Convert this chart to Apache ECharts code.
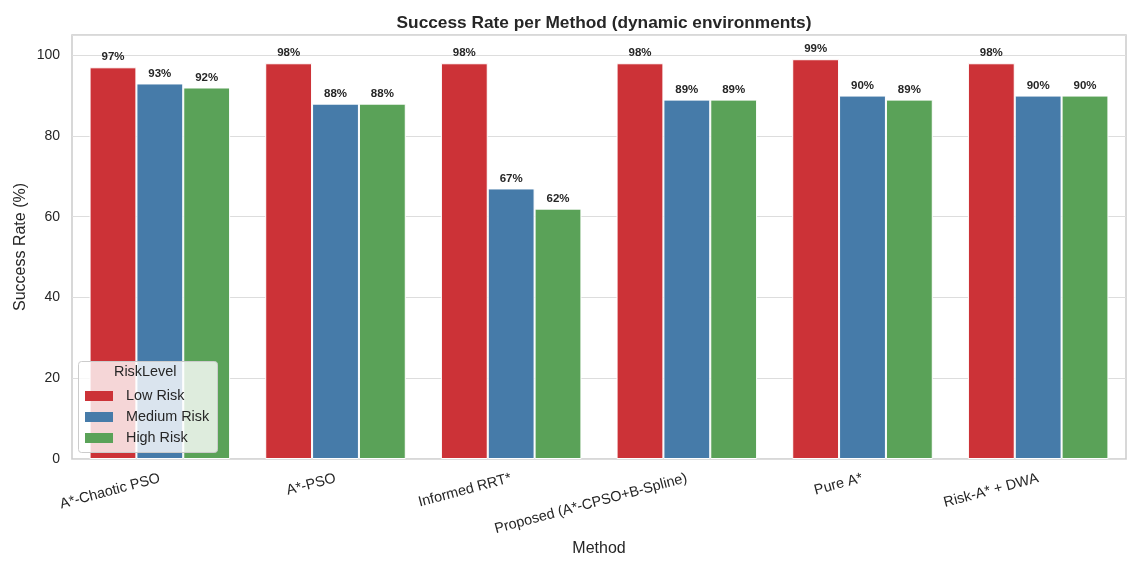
<!DOCTYPE html>
<html>
<head>
<meta charset="utf-8">
<title>Success Rate per Method</title>
<script src="https://cdn.jsdelivr.net/npm/echarts@6/dist/echarts.min.js"></script>
<style>
  html, body { margin: 0; padding: 0; background: #fff; }
  #chart { width: 1140px; height: 566px; }
</style>
</head>
<body>
<div id="chart"></div>
<script>
// Chart data
const methods = ['A*-Chaotic PSO', 'A*-PSO', 'Informed RRT*', 'Proposed (A*-CPSO+B-Spline)', 'Pure A*', 'Risk-A* + DWA'];
const riskLevels = ['Low Risk', 'Medium Risk', 'High Risk'];
const lowRisk = [97, 98, 98, 98, 99, 98];
const mediumRisk = [93, 88, 67, 89, 90, 90];
const highRisk = [92, 88, 62, 89, 89, 90];
const yTicks = [0, 20, 40, 60, 80, 100];

const colors = ['#cc3237', '#467ba9', '#5aa258'];
const font = 'Liberation Sans, Arial, sans-serif';

const chart = echarts.init(document.getElementById('chart'));

function makeSeries(name, values, color) {
    return {
        name: name,
        type: 'bar',
        data: values,
        barGap: '0%',
        barCategoryGap: '20%',
        itemStyle: {
            color: color,
            borderColor: '#ffffff',
            borderWidth: 1
        },
        label: {
            show: true,
            position: 'top',
            distance: 4,
            formatter: p => p.value + '%',
            fontFamily: font,
            fontWeight: 'bold',
            fontSize: 11.5,
            color: '#262626'
        },
        emphasis: { disabled: true }
    };
}

const option = {
    animation: false,
    backgroundColor: '#ffffff',
    title: {
        text: 'Success Rate per Method (dynamic environments)',
        left: 599,
        top: 10,
        textAlign: 'center',
        textStyle: {
            fontFamily: font,
            fontSize: 17.3,
            fontWeight: 'bold',
            color: '#262626'
        }
    },
    grid: {
        left: 72,
        right: 14,
        top: 35,
        bottom: 107,
        show: true,
        borderColor: '#cccccc',
        borderWidth: 1.5,
        containLabel: false
    },
    legend: {
        data: riskLevels,
        orient: 'vertical',
        left: 80,
        top: 384,
        itemWidth: 28,
        itemHeight: 10,
        itemGap: 7,
        icon: 'rect',
        z: 120,
        itemStyle: { borderWidth: 0 },
        textStyle: {
            fontFamily: font,
            fontSize: 14.4,
            color: '#262626',
            padding: [0, 0, 0, 8]
        },
        selectedMode: false
    },
    graphic: [
        {
            type: 'rect',
            left: 78,
            top: 361,
            z: 100,
            shape: { width: 139, height: 91, r: 3 },
            style: { fill: 'rgba(255,255,255,0.8)', stroke: '#cccccc', lineWidth: 1 }
        },
        {
            type: 'text',
            left: 114,
            top: 365,
            z: 101,
            style: {
                text: 'RiskLevel',
                fontFamily: font,
                fontSize: 14.4,
                fill: '#262626'
            }
        }
    ],
    xAxis: {
        type: 'category',
        data: methods,
        name: 'Method',
        nameLocation: 'middle',
        nameGap: 82,
        nameMoveOverlap: false,
        nameTextStyle: { fontFamily: font, fontSize: 16, color: '#262626' },
        axisLine: { show: false },
        axisTick: { show: false },
        splitLine: { show: false },
        axisLabel: {
            rotate: 15,
            margin: 19,
            interval: 0,
            fontFamily: font,
            fontSize: 14.4,
            color: '#262626'
        }
    },
    yAxis: {
        type: 'value',
        min: 0,
        max: 105,
        interval: 20,
        name: 'Success Rate (%)',
        nameLocation: 'middle',
        nameGap: 43,
        nameMoveOverlap: false,
        nameTextStyle: { fontFamily: font, fontSize: 16, color: '#262626' },
        axisLine: { show: false },
        axisTick: { show: false },
        splitLine: { lineStyle: { color: '#dddddd', width: 1.2 } },
        axisLabel: {
            margin: 12,
            fontFamily: font,
            fontSize: 14,
            color: '#262626',
            formatter: v => (yTicks.indexOf(v) >= 0 ? String(v) : '')
        }
    },
    series: [
        makeSeries(riskLevels[0], lowRisk, colors[0]),
        makeSeries(riskLevels[1], mediumRisk, colors[1]),
        makeSeries(riskLevels[2], highRisk, colors[2])
    ]
};

chart.setOption(option);
</script>
</body>
</html>
